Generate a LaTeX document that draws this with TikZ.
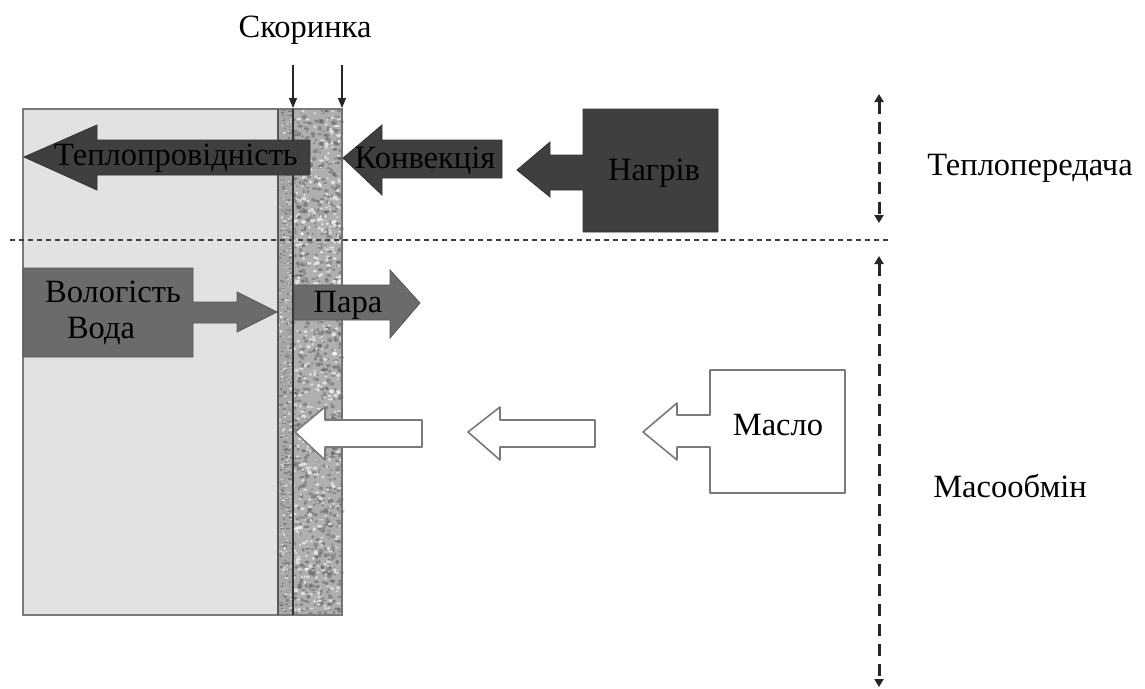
\documentclass[tikz,border=0pt]{standalone}
\usepackage{fontspec}
\setmainfont{Liberation Serif}
\usetikzlibrary{arrows.meta}
\definecolor{darkfill}{HTML}{3F3F3F}
\definecolor{midfill}{HTML}{6B6B6B}
\definecolor{bodyfill}{HTML}{E2E2E2}
\definecolor{crustA}{HTML}{A8A8A8}
\definecolor{crustB}{HTML}{AFAFAF}
\definecolor{edgegray}{HTML}{7A7A7A}
\begin{document}
\begin{tikzpicture}[x=1pt,y=-1pt,
  font=\fontsize{32.5}{38}\selectfont,
  lbl/.style={inner sep=0pt,anchor=base,text=black},
  darkarrow/.style={fill=darkfill,draw=darkfill!80!black,line width=0.8pt},
  midarrow/.style={fill=midfill,draw=midfill!80!black,line width=0.8pt},
  whitearrow/.style={fill=white,draw=edgegray,line width=1.6pt,line join=round},
  crustarrow/.style={draw=black!85,line width=1.1pt,-{Triangle[length=10pt,width=8pt]}},
  splitline/.style={draw=black!75,line width=1.6pt,dash pattern=on 5pt off 4pt},
  rangearrow/.style={draw=black!85,line width=3pt,dash pattern=on 12pt off 8pt,{Triangle[length=8pt,width=9pt]}-{Triangle[length=8pt,width=9pt]}}]
\useasboundingbox (0,0) rectangle (1145,688);

% body
\fill[bodyfill] (23,109) rectangle (278,615);
% crust
\fill[crustA] (278,109) rectangle (293,615);
\fill[crustB] (293,109) rectangle (342,615);
\pgfmathsetseed{17}
\foreach \i in {1,...,900}{
  \pgfmathsetmacro\rx{293+49*rnd}
  \pgfmathsetmacro\ry{110+504*rnd}
  \fill[black!65,opacity=0.45] (\rx,\ry) ellipse ({1+1.8*rnd} and {0.8+1.4*rnd});
}
\foreach \i in {1,...,450}{
  \pgfmathsetmacro\rx{294+47*rnd}
  \pgfmathsetmacro\ry{110+504*rnd}
  \fill[white,opacity=0.6] (\rx,\ry) ellipse ({1+1.6*rnd} and {0.8+1.3*rnd});
}
\foreach \i in {1,...,300}{
  \pgfmathsetmacro\rx{279+12*rnd}
  \pgfmathsetmacro\ry{110+504*rnd}
  \fill[black!65,opacity=0.45] (\rx,\ry) rectangle ++({1+3*rnd},1.3);
}
\foreach \i in {1,...,200}{
  \pgfmathsetmacro\rx{279+12*rnd}
  \pgfmathsetmacro\ry{110+504*rnd}
  \fill[white,opacity=0.5] (\rx,\ry) rectangle ++({1+2.5*rnd},1.3);
}
\draw[edgegray,line width=1.5pt] (23,109) rectangle (342,615);
\draw[black!65,line width=1.4pt] (278,109) -- (278,615);
\draw[black!80,line width=1.8pt] (293,109) -- (293,615);
\draw[black!55,line width=1.4pt] (342,109) -- (342,615);

% crust markers
\coordinate (c1s) at (293,65); \coordinate (c1e) at (293,108);
\coordinate (c2s) at (342,65); \coordinate (c2e) at (342,108);
\draw[crustarrow] (c1s) -- (c1e);
\draw[crustarrow] (c2s) -- (c2e);
\node[lbl] (crust) at (305,37) {Скоринка};

% heat transfer arrows
\draw[darkarrow] (24,157) -- (97,125) -- (97,140) -- (310,140) -- (310,175) -- (97,175) -- (97,190) -- cycle;
\node[lbl,text=black] (cond) at (176,165) {Теплопровідність};
\draw[darkarrow] (343,158) -- (382,125) -- (382,140) -- (502,140) -- (502,178) -- (382,178) -- (382,195) -- cycle;
\node[lbl] (conv) at (425,168) {Конвекція};
\draw[darkarrow] (517,170) -- (550,142) -- (550,155) -- (583,155) -- (583,109) -- (718,109) -- (718,232) -- (583,232) -- (583,190) -- (550,190) -- (550,197) -- cycle;
\node[lbl] (heat) at (654,180) {Нагрів};

% separator
\coordinate (sepL) at (10,240); \coordinate (sepR) at (890,240);
\draw[splitline] (sepL) -- (sepR);

% moisture
\draw[midarrow] (23,268) -- (193,268) -- (193,302) -- (237,302) -- (237,292) -- (277,312) -- (237,332) -- (237,323) -- (193,323) -- (193,357) -- (23,357) -- cycle;
\node[lbl] (moist) at (113,302) {Вологість};
\node[lbl] (water) at (101,338) {Вода};
\draw[midarrow] (294,285) -- (390,285) -- (390,270) -- (420,303) -- (390,338) -- (390,320) -- (294,320) -- cycle;
\node[lbl] (steam) at (348,312) {Пара};

% oil
\draw[whitearrow] (295,432) -- (325,407) -- (325,420) -- (422,420) -- (422,447) -- (325,447) -- (325,460) -- cycle;
\draw[whitearrow] (468,432) -- (500,407) -- (500,420) -- (595,420) -- (595,447) -- (500,447) -- (500,460) -- cycle;
\draw[whitearrow] (643,432) -- (677,403) -- (677,415) -- (710,415) -- (710,370) -- (845,370) -- (845,493) -- (710,493) -- (710,447) -- (677,447) -- (677,460) -- cycle;
\node[lbl] (oil) at (778,435) {Масло};

% ranges
\coordinate (r1t) at (879,94); \coordinate (r1b) at (879,223);
\coordinate (r2t) at (879,256); \coordinate (r2b) at (879,687);
\draw[rangearrow] (r1t) -- (r1b);
\draw[rangearrow] (r2t) -- (r2b);
\node[lbl] (ht) at (1030,175) {Теплопередача};
\node[lbl] (mt) at (1010,497) {Масообмін};
\end{tikzpicture}
\end{document}
